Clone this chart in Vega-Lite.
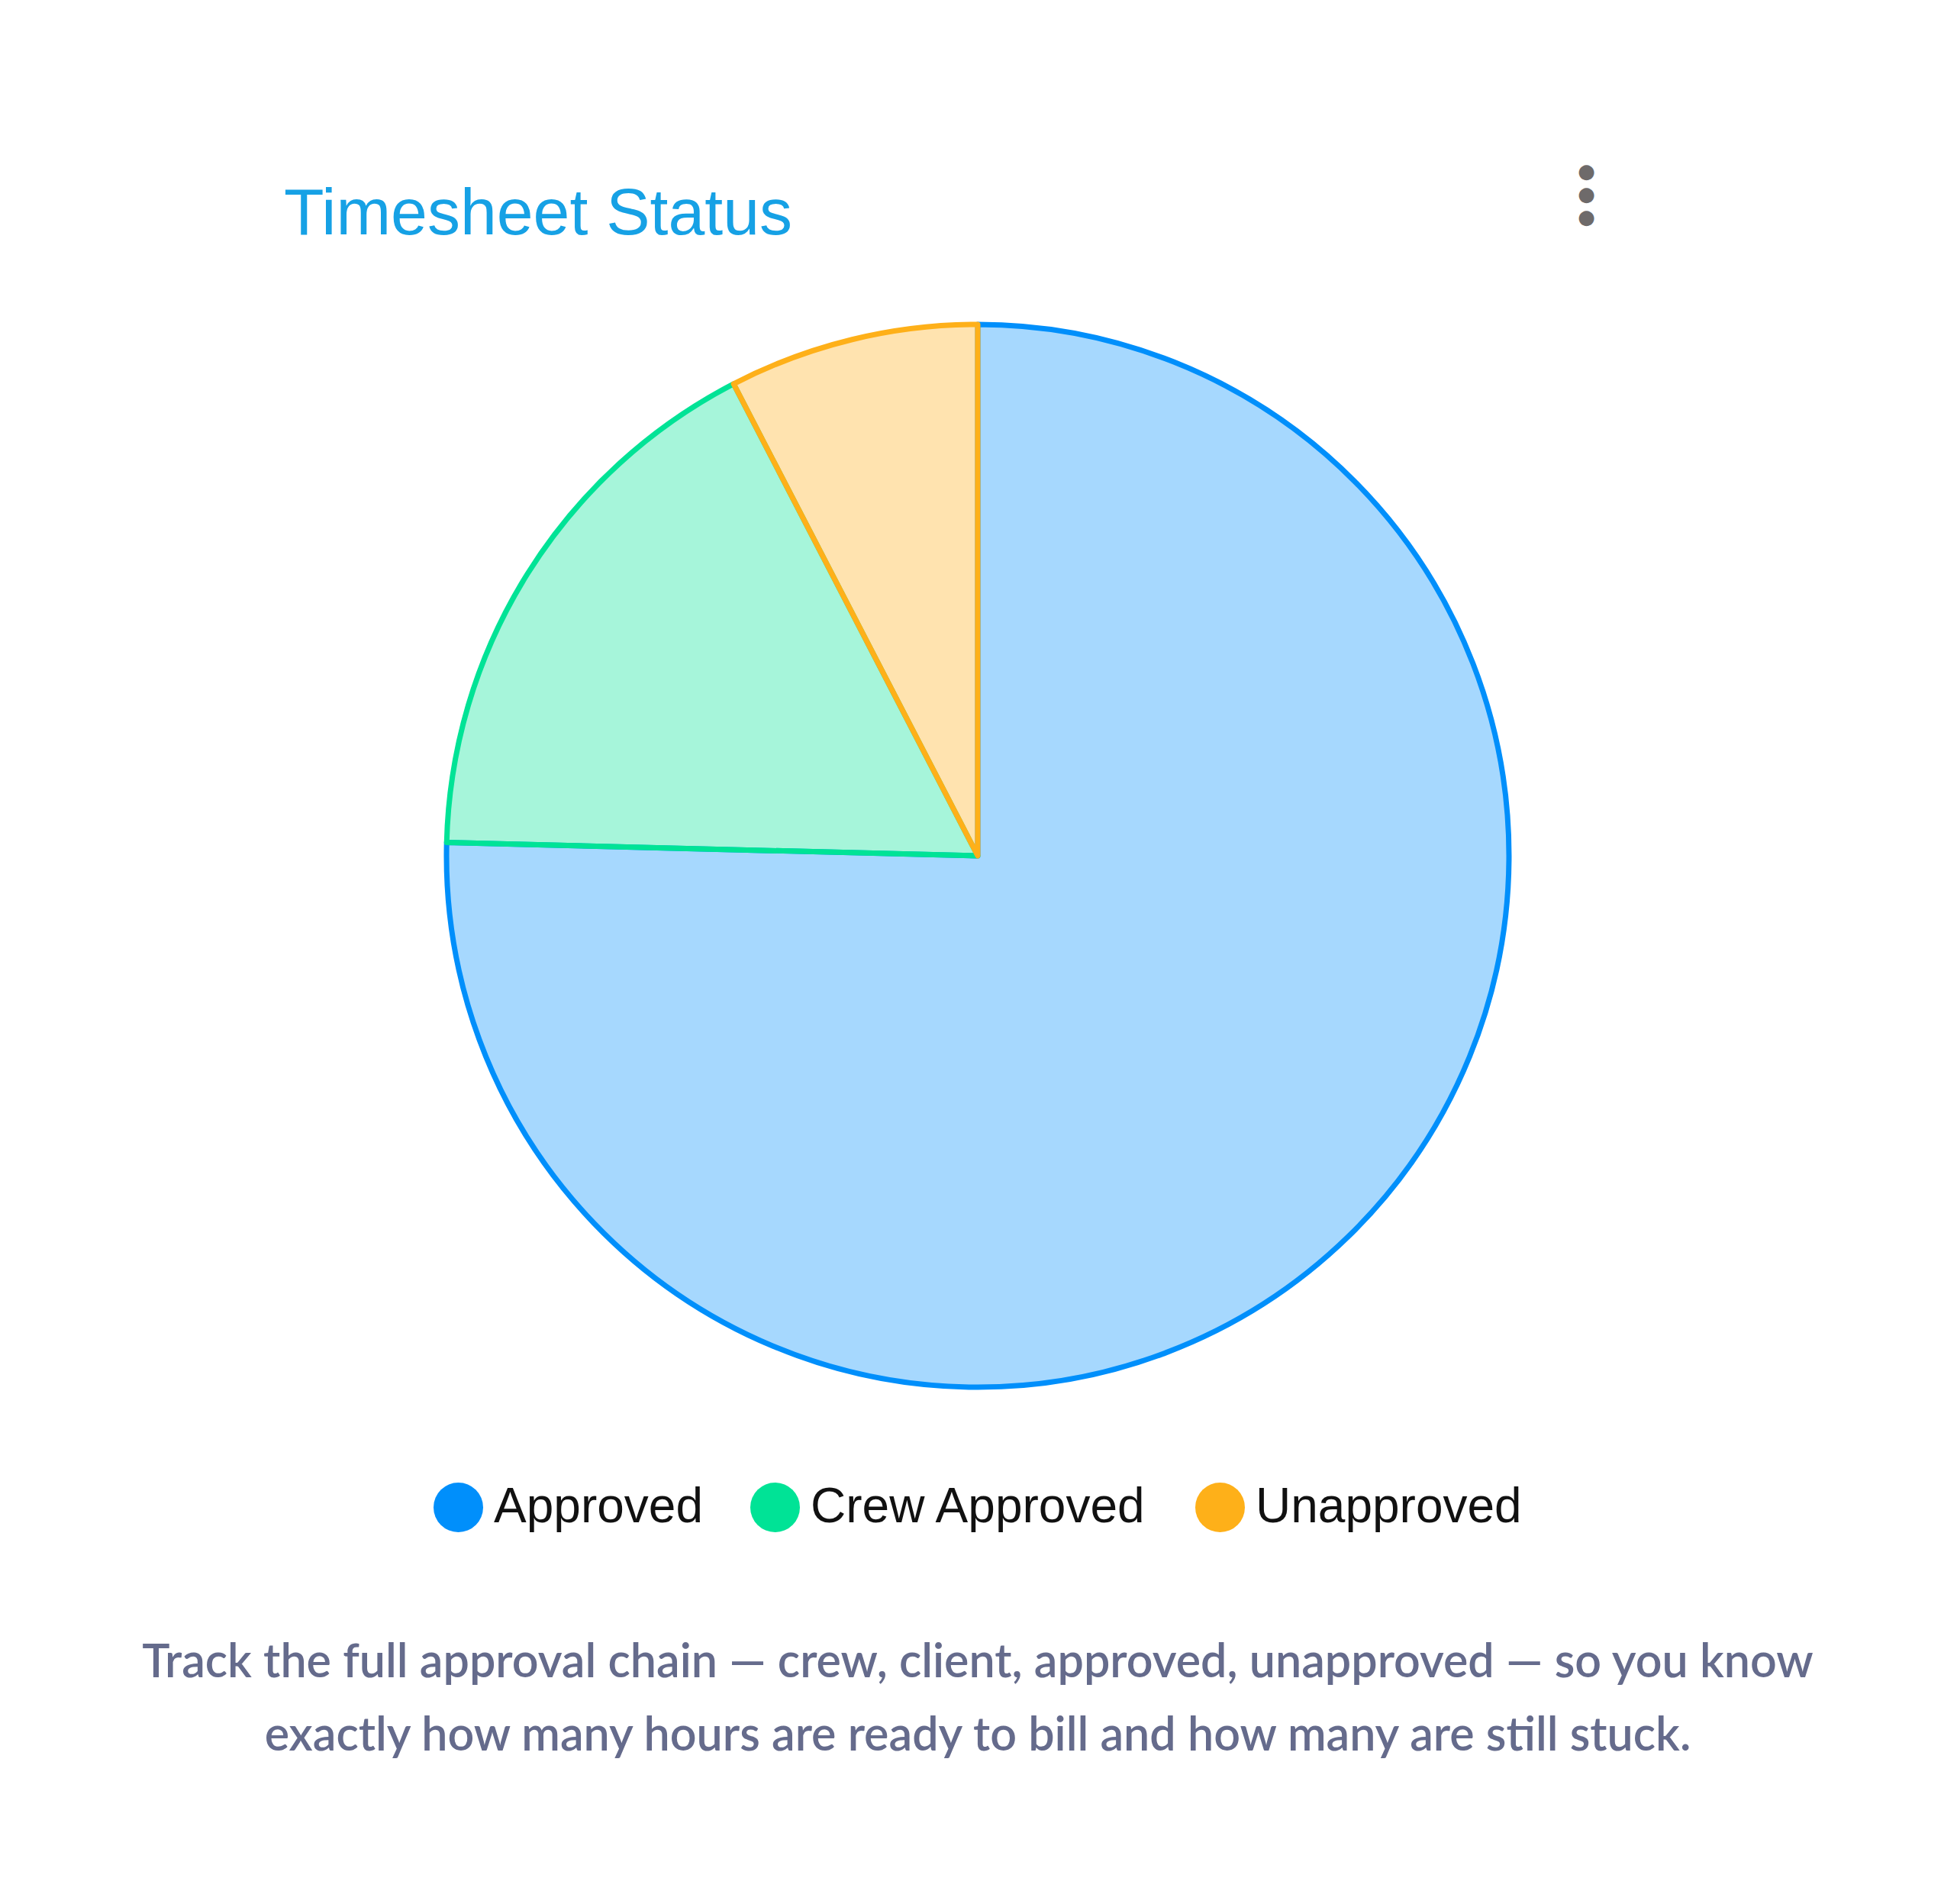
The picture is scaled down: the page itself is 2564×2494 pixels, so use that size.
{
  "$schema": "https://vega.github.io/schema/vega-lite/v6.json",
  "background": "white",
  "padding": {"left": 185, "top": 212, "right": 0, "bottom": 0},
  "title": {
    "text": ["Track the full approval chain — crew, client, approved, unapproved — so you know", "exactly how many hours are ready to bill and how many are still stuck."],
    "orient": "bottom",
    "anchor": "middle",
    "font": "Lato",
    "fontSize": 61,
    "fontWeight": 600,
    "color": "#656b8c",
    "lineHeight": 96,
    "offset": 142
  },
  "vconcat": [
    {
      "title": {
        "text": ["●", "●", "●"],
        "orient": "top",
        "anchor": "end",
        "font": "DejaVu Sans",
        "fontSize": 26,
        "lineHeight": 30,
        "color": "#6e6a6a",
        "dx": -100,
        "offset": -60
      },
      "vconcat": [
        {
          "title": {
            "text": "Timesheet Status",
            "anchor": "start",
            "font": "Liberation Sans",
            "fontSize": 86,
            "fontWeight": "normal",
            "color": "#16a1e5",
            "offset": -11,
            "baseline": "alphabetic"
          },
          "width": 1818,
          "height": 1478,
          "data": {
            "values": [
              {"status": "Approved", "value": 75.4},
              {"status": "Crew Approved", "value": 17.0},
              {"status": "Unapproved", "value": 7.6}
            ]
          },
          "mark": {"type": "arc", "radius": 696, "strokeWidth": 7, "fillOpacity": 0.35, "strokeJoin": "round"},
          "encoding": {
            "theta": {"field": "value", "type": "quantitative", "stack": true},
            "color": {
              "field": "status",
              "type": "nominal",
              "scale": {"domain": ["Approved", "Crew Approved", "Unapproved"], "range": ["#008FFB", "#00E396", "#FEB019"]},
              "legend": {
                "orient": "bottom",
                "direction": "horizontal",
                "title": null,
                "symbolType": "circle",
                "symbolSize": 4225,
                "symbolOpacity": 1,
                "symbolStrokeWidth": 0,
                "labelFont": "Liberation Sans",
                "labelFontSize": 64,
                "labelColor": "#111111",
                "labelOffset": 14,
                "labelLimit": 0,
                "columnPadding": 62,
                "offset": 82,
                "padding": 0
              }
            },
            "stroke": {
              "field": "status",
              "type": "nominal",
              "scale": {"domain": ["Approved", "Crew Approved", "Unapproved"], "range": ["#008FFB", "#00E396", "#FEB019"]},
              "legend": null
            }
          }
        }
      ]
    }
  ],
  "config": {
    "view": {"stroke": null},
    "concat": {"spacing": 0},
    "legend": {"layout": {"bottom": {"anchor": "middle"}}}
  }
}
